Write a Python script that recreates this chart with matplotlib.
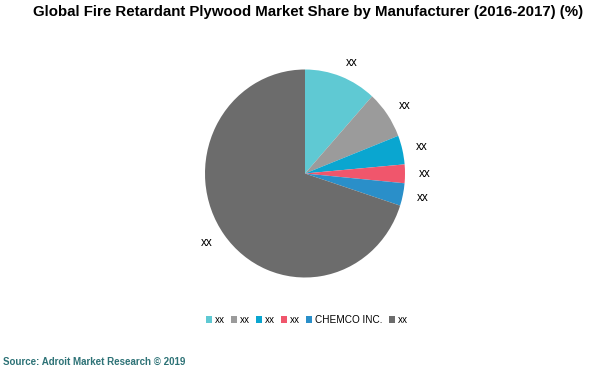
import matplotlib
matplotlib.use("Agg")
import matplotlib.pyplot as plt
from matplotlib.patches import Patch

labels = ["xx", "xx", "xx", "xx", "CHEMCO INC.", "xx"]
shares = [11.7, 7.4, 4.5, 2.9, 3.5, 70.0]
slice_labels = ["xx", "xx", "xx", "xx", "xx", "xx"]
colors = ["#5FC9D3", "#9B9B9B", "#0AA6D0", "#F0566C", "#2A8FC9", "#6C6C6C"]

W, H = 611, 385
fig = plt.figure(figsize=(W / 100, H / 100), dpi=100)
cx, cy, rx, ry = 305, 173.5, 100, 104
ext = 1.35
ax = fig.add_axes([(cx - ext * rx) / W, (H - cy - ext * ry) / H, 2 * ext * rx / W, 2 * ext * ry / H])
ax.pie(shares, labels=slice_labels, colors=colors, startangle=90, counterclock=False,
       labeldistance=1.14, textprops=dict(fontsize=8.5, color="#000000", family="Liberation Sans"),
       wedgeprops=dict(linewidth=0))
ax.set_xlim(-ext, ext)
ax.set_ylim(-ext, ext)
ax.set_aspect("auto")
ax.axis("off")

fig.text(308 / W, 1 - 12 / H, "Global Fire Retardant Plywood Market Share by Manufacturer (2016-2017) (%)",
         ha="center", va="center", fontsize=10.8, fontweight="bold", family="Liberation Sans")

handles = [Patch(facecolor=c, edgecolor="none") for c in colors]
fig.legend(handles, labels, loc="center", bbox_to_anchor=(307 / W, 1 - 320 / H), ncol=6,
           frameon=False, handlelength=0.6, handleheight=0.6, handletextpad=0.3,
           columnspacing=0.6, prop=dict(family="Liberation Sans", size=7.2))

fig.text(3 / W, 1 - 362 / H, "Source: Adroit Market Research \u00a9 2019", ha="left", va="center",
         fontsize=7, fontweight="bold", color="#2D7276", family="Liberation Sans")

fig.savefig("out.png", dpi=100)
